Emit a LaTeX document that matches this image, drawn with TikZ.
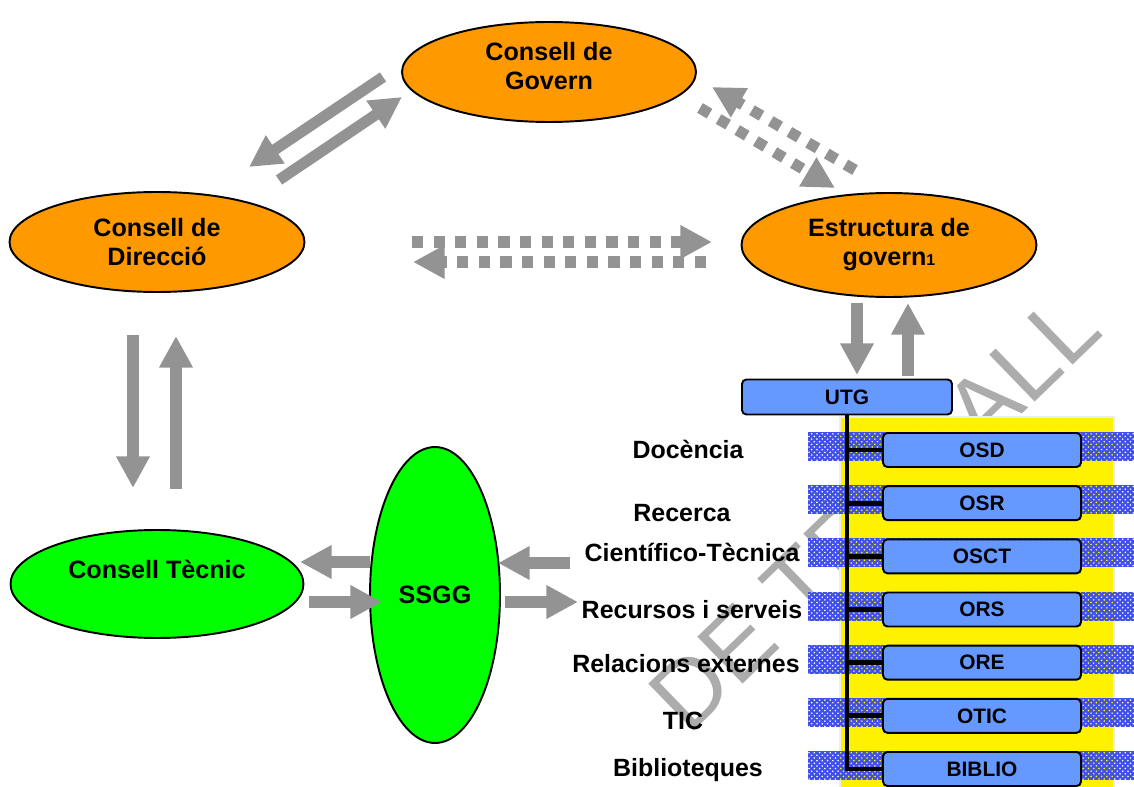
\documentclass[tikz,border=0pt]{standalone}
\usepackage{fontspec}
\setmainfont{Liberation Sans}
\usetikzlibrary{shapes.geometric,arrows.meta,patterns}
\definecolor{taronja}{HTML}{FF9900}
\definecolor{verd}{HTML}{00FF00}
\definecolor{blauof}{HTML}{6699FF}
\definecolor{blaufr}{HTML}{4050E8}
\definecolor{grisfl}{HTML}{939393}
\begin{document}
\begin{tikzpicture}[x=0.02cm,y=-0.02cm]
	\tikzstyle{every node}+=[inner sep=0pt]
	\tikzstyle{organ}=[ellipse,draw=black,line width=1.1pt,align=center,font=\fontsize{14.3}{16.5}\selectfont\bfseries]
	\tikzstyle{oficina}=[rectangle,rounded corners=2.5pt,draw=black,line width=1.1pt,fill=blauof,minimum width=3.96cm,minimum height=0.68cm,font=\fontsize{11.9}{13}\selectfont\bfseries]
	\tikzstyle{arealbl}=[font=\fontsize{14.2}{16}\selectfont\bfseries,text height=10.1pt,text depth=0pt]
	\tikzstyle{fletxa}=[draw=grisfl,line width=6.3pt,-{Triangle[width=18pt,length=18pt]}]
	\tikzstyle{puntejada}=[fletxa,dash pattern=on 6.3pt off 6pt]
	\tikzstyle{linia}=[draw=black,line width=2.8pt,line join=miter]
	\useasboundingbox (0,0) rectangle (1134,787);
	\node[font=\fontsize{54}{54}\selectfont,text=gray!65,rotate=44] (marca) at (874,512) {DE TREBALL};
	\node[organ,fill=taronja,minimum width=5.88cm,minimum height=2cm,text depth=6.8pt] (govern) at (549,72) {Consell de\\Govern};
	\node[organ,fill=taronja,minimum width=5.9cm,minimum height=2cm] (direccio) at (157,242) {Consell de\\Direcció};
	\node[organ,fill=taronja,minimum width=5.9cm,minimum height=2.08cm] (estructura) at (889,245) {Estructura de\\govern{\fontsize{9}{9}\selectfont 1}};
	\node[organ,fill=verd,minimum width=5.86cm,minimum height=2.16cm] (tecnic) at (157,584) {Consell Tècnic\\\mbox{}};
	\node[organ,fill=verd,minimum width=2.6cm,minimum height=5.92cm] (ssgg) at (435,595) {SSGG};
	\coordinate (govdir-a) at (383,77);
	\coordinate (govdir-b) at (249,167);
	\coordinate (dirgov-a) at (279,180);
	\coordinate (dirgov-b) at (402,97);
	\coordinate (estgov-a) at (855,170);
	\coordinate (estgov-b) at (712,87);
	\coordinate (govest-a) at (700,108);
	\coordinate (govest-b) at (835,188);
	\coordinate (direst-a) at (412,242);
	\coordinate (direst-b) at (712,242);
	\coordinate (estdir-a) at (706,262);
	\coordinate (estdir-b) at (413,262);
	\coordinate (dirtec-a) at (133,335);
	\coordinate (dirtec-b) at (133,488);
	\coordinate (tecdir-a) at (176,489);
	\coordinate (tecdir-b) at (176,336);
	\coordinate (estutg-a) at (857,303);
	\coordinate (estutg-b) at (857,375);
	\coordinate (utgest-a) at (908,376);
	\coordinate (utgest-b) at (908,303);
	\coordinate (ssgtec-a) at (370,562);
	\coordinate (ssgtec-b) at (300,562);
	\coordinate (tecssg-a) at (309,602);
	\coordinate (tecssg-b) at (382,602);
	\coordinate (arssg-a) at (570,563);
	\coordinate (arssg-b) at (498,563);
	\coordinate (ssgar-a) at (505,602);
	\coordinate (ssgar-b) at (578,602);
	\draw[fletxa] (govdir-a) -- (govdir-b);
	\draw[fletxa] (dirgov-a) -- (dirgov-b);
	\draw[puntejada] (estgov-a) -- (estgov-b);
	\draw[puntejada] (govest-a) -- (govest-b);
	\draw[puntejada] (direst-a) -- (direst-b);
	\draw[puntejada] (estdir-a) -- (estdir-b);
	\draw[fletxa] (dirtec-a) -- (dirtec-b);
	\draw[fletxa] (tecdir-a) -- (tecdir-b);
	\draw[fletxa] (estutg-a) -- (estutg-b);
	\draw[fletxa] (utgest-a) -- (utgest-b);
	\draw[fletxa] (ssgtec-a) -- (ssgtec-b);
	\draw[fletxa] (tecssg-a) -- (tecssg-b);
	\draw[fletxa] (arssg-a) -- (arssg-b);
	\draw[fletxa] (ssgar-a) -- (ssgar-b);
	\filldraw[fill=yellow,draw=gray!15,line width=1.5pt] (840,417) rectangle (1114,792);
	\foreach \nom [count=\i from 0] in {OSD,OSR,OSCT,ORS,ORE,OTIC,BIBLIO}{
		\pgfmathsetmacro{\yc}{450+53.17*\i}
		\fill[blaufr] (808,{\yc-18}) rectangle (1134,{\yc+11});
		\fill[pattern=crosshatch dots,pattern color=white] (808,{\yc-18}) rectangle (840,{\yc+11}) (1114,{\yc-18}) rectangle (1134,{\yc+11});
		\fill[pattern=crosshatch dots,pattern color=yellow] (840,{\yc-18}) rectangle (1114,{\yc+11});
		\node[oficina] (\nom) at (982,\yc) {\nom};
	}
	\node[oficina,minimum width=4.2cm,minimum height=0.7cm] (UTG) at (847,397) {UTG};
	\draw[linia] (UTG.south) -- (UTG.south |- BIBLIO.west) -- (BIBLIO.west);
	\foreach \nom in {OSD,OSR,OSCT,ORS,ORE,OTIC}
		\draw[linia] (UTG.south |- \nom.west) -- (\nom.west);
	\foreach \txt/\xx/\yy [count=\i] in {Docència/688/450,Recerca/682/513,Científico-Tècnica/692/553,Recursos i serveis/692/610,Relacions externes/686/664,TIC/683/721,Biblioteques/688/768}
		\node[arealbl] (area\i) at (\xx,\yy) {\txt};
\end{tikzpicture}
\end{document}
